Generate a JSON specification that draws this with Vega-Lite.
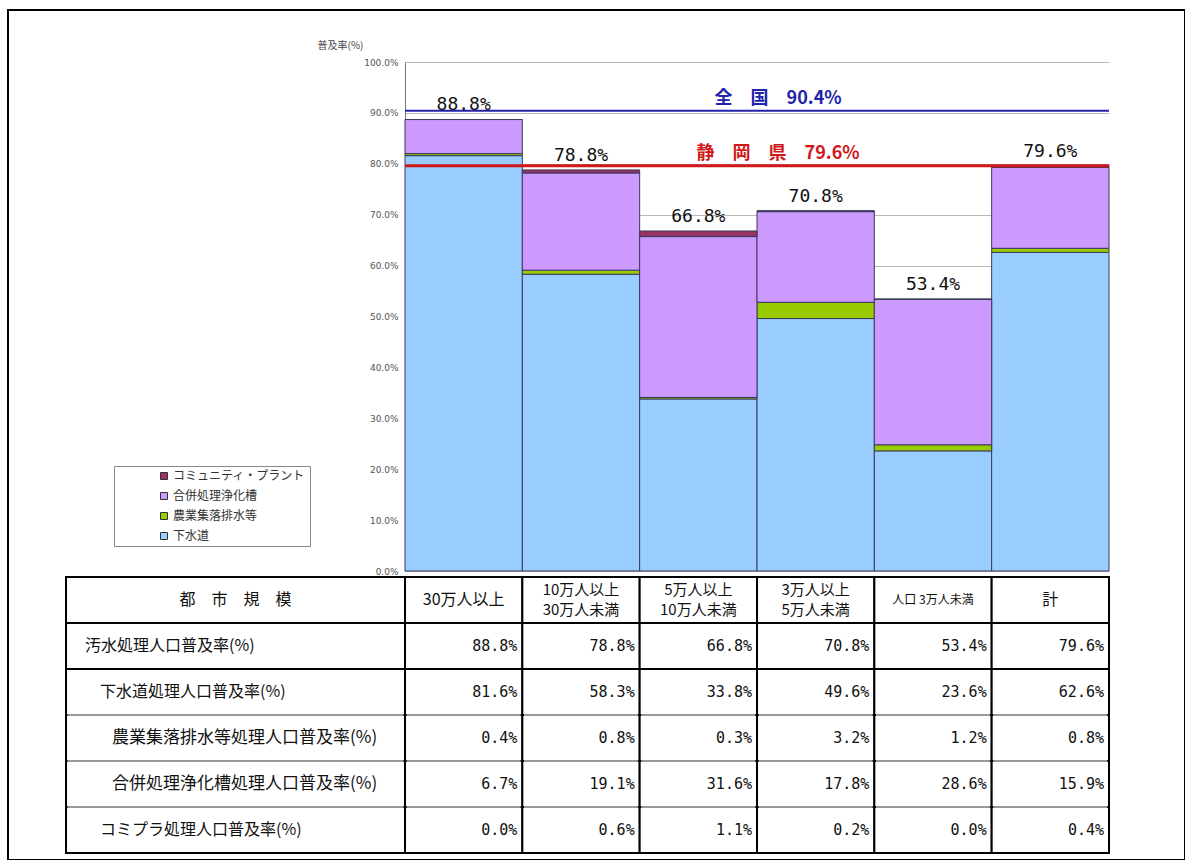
{
  "$schema": "https://vega.github.io/schema/vega-lite/v6.json",
  "width": 1177,
  "height": 850,
  "autosize": "none",
  "padding": {"left": 8, "top": 10, "right": 0, "bottom": 0},
  "background": "white",
  "config": {
    "view": {"stroke": "#000", "strokeWidth": 2},
    "font": "Noto Sans CJK JP"
  },
  "datasets": {
    "table": [
      {"row": "汚水処理人口普及率(%)", "size": "30万人以上", "value": 0.888},
      {"row": "汚水処理人口普及率(%)", "size": "10万人以上\n30万人未満", "value": 0.788},
      {"row": "汚水処理人口普及率(%)", "size": "5万人以上\n10万人未満", "value": 0.668},
      {"row": "汚水処理人口普及率(%)", "size": "3万人以上\n5万人未満", "value": 0.708},
      {"row": "汚水処理人口普及率(%)", "size": "人口 3万人未満", "value": 0.534},
      {"row": "汚水処理人口普及率(%)", "size": "計", "value": 0.796},
      {"row": "下水道処理人口普及率(%)", "size": "30万人以上", "value": 0.816},
      {"row": "下水道処理人口普及率(%)", "size": "10万人以上\n30万人未満", "value": 0.583},
      {"row": "下水道処理人口普及率(%)", "size": "5万人以上\n10万人未満", "value": 0.338},
      {"row": "下水道処理人口普及率(%)", "size": "3万人以上\n5万人未満", "value": 0.496},
      {"row": "下水道処理人口普及率(%)", "size": "人口 3万人未満", "value": 0.236},
      {"row": "下水道処理人口普及率(%)", "size": "計", "value": 0.626},
      {"row": "農業集落排水等処理人口普及率(%)", "size": "30万人以上", "value": 0.004},
      {"row": "農業集落排水等処理人口普及率(%)", "size": "10万人以上\n30万人未満", "value": 0.008},
      {"row": "農業集落排水等処理人口普及率(%)", "size": "5万人以上\n10万人未満", "value": 0.003},
      {"row": "農業集落排水等処理人口普及率(%)", "size": "3万人以上\n5万人未満", "value": 0.032},
      {"row": "農業集落排水等処理人口普及率(%)", "size": "人口 3万人未満", "value": 0.012},
      {"row": "農業集落排水等処理人口普及率(%)", "size": "計", "value": 0.008},
      {"row": "合併処理浄化槽処理人口普及率(%)", "size": "30万人以上", "value": 0.067},
      {"row": "合併処理浄化槽処理人口普及率(%)", "size": "10万人以上\n30万人未満", "value": 0.191},
      {"row": "合併処理浄化槽処理人口普及率(%)", "size": "5万人以上\n10万人未満", "value": 0.316},
      {"row": "合併処理浄化槽処理人口普及率(%)", "size": "3万人以上\n5万人未満", "value": 0.178},
      {"row": "合併処理浄化槽処理人口普及率(%)", "size": "人口 3万人未満", "value": 0.286},
      {"row": "合併処理浄化槽処理人口普及率(%)", "size": "計", "value": 0.159},
      {"row": "コミプラ処理人口普及率(%)", "size": "30万人以上", "value": 0.0},
      {"row": "コミプラ処理人口普及率(%)", "size": "10万人以上\n30万人未満", "value": 0.006},
      {"row": "コミプラ処理人口普及率(%)", "size": "5万人以上\n10万人未満", "value": 0.011},
      {"row": "コミプラ処理人口普及率(%)", "size": "3万人以上\n5万人未満", "value": 0.002},
      {"row": "コミプラ処理人口普及率(%)", "size": "人口 3万人未満", "value": 0.0},
      {"row": "コミプラ処理人口普及率(%)", "size": "計", "value": 0.004}
    ],
    "series": [
      {"row": "下水道処理人口普及率(%)", "type": "下水道", "k": 1},
      {"row": "農業集落排水等処理人口普及率(%)", "type": "農業集落排水等", "k": 2},
      {"row": "合併処理浄化槽処理人口普及率(%)", "type": "合併処理浄化槽", "k": 3},
      {"row": "コミプラ処理人口普及率(%)", "type": "コミュニティ・プラント", "k": 4}
    ],
    "header": [
      {"size": "30万人以上"},
      {"size": "10万人以上\n30万人未満"},
      {"size": "5万人以上\n10万人未満"},
      {"size": "3万人以上\n5万人未満"},
      {"size": "人口 3万人未満"},
      {"size": "計"}
    ],
    "rowlabels": [
      {"row": "都　市　規　模"},
      {"row": "汚水処理人口普及率(%)"},
      {"row": "下水道処理人口普及率(%)"},
      {"row": "農業集落排水等処理人口普及率(%)"},
      {"row": "合併処理浄化槽処理人口普及率(%)"},
      {"row": "コミプラ処理人口普及率(%)"}
    ],
    "refs": [
      {"name": "全国", "value": 0.904, "label": "全　国　90.4%"},
      {"name": "静岡県", "value": 0.796, "label": "静　岡　県　79.6%"}
    ]
  },
  "resolve": {"scale": {"x": "independent", "y": "independent"}},
  "layer": [
    {
      "data": {"name": "table"},
      "transform": [
        {"lookup": "row", "from": {"data": {"name": "series"}, "key": "row", "fields": ["type", "k"]}},
        {"filter": "datum.type != null"}
      ],
      "mark": {"type": "bar", "stroke": "#3a3a5a", "strokeWidth": 1},
      "encoding": {
        "x": {"field": "size", "type": "nominal", "axis": null,
          "scale": {"type": "band", "domain": ["30万人以上", "10万人以上\n30万人未満", "5万人以上\n10万人未満", "3万人以上\n5万人未満", "人口 3万人未満", "計"], "range": [397, 1101], "paddingInner": 0, "paddingOuter": 0}},
        "y": {"field": "value", "type": "quantitative", "stack": "zero",
          "scale": {"domain": [0, 1], "range": [561, 52], "nice": false, "zero": false},
          "axis": {"format": ".1%", "values": [0, 0.1, 0.2, 0.3, 0.4, 0.5, 0.6, 0.7, 0.8, 0.9, 1], "offset": -397,
            "grid": true, "gridColor": "#b8b8b8", "gridWidth": 1, "domain": true, "domainColor": "#777", "ticks": false,
            "labelPadding": 7, "labelFontSize": 9, "labelFont": "DejaVu Sans", "labelColor": "#555",
            "title": "普及率(%)", "titleAngle": 0, "titleX": -65, "titleY": 35, "titleAlign": "center", "titleBaseline": "middle",
            "titleFontSize": 10, "titleFontWeight": "normal", "titleFont": "Noto Sans CJK JP", "titleColor": "#444"}},
        "color": {"field": "type", "type": "nominal",
          "scale": {"domain": ["コミュニティ・プラント", "合併処理浄化槽", "農業集落排水等", "下水道"], "range": ["#993366", "#CC99FF", "#99CC00", "#99CCFF"]},
          "legend": {"orient": "none", "legendX": 106, "legendY": 456, "title": null, "strokeColor": "#888", "fillColor": "#fff",
            "padding": 4, "symbolOffset": 40, "symbolType": "square", "symbolSize": 49, "symbolStrokeColor": "#333", "symbolStrokeWidth": 1,
            "labelFontSize": 12, "labelFont": "Noto Sans CJK JP", "labelColor": "#333", "rowPadding": 8, "labelOffset": 3}},
        "order": {"field": "k", "type": "quantitative"}
      }
    },
    {
      "data": {"name": "table"},
      "transform": [{"filter": "datum.row === '汚水処理人口普及率(%)'"}],
      "mark": {"type": "text", "baseline": "bottom", "dy": -5, "font": "DejaVu Sans Mono", "fontSize": 18, "color": "#111"},
      "encoding": {
        "x": {"field": "size", "type": "nominal", "axis": null,
          "scale": {"type": "band", "domain": ["30万人以上", "10万人以上\n30万人未満", "5万人以上\n10万人未満", "3万人以上\n5万人未満", "人口 3万人未満", "計"], "range": [397, 1101], "paddingInner": 0, "paddingOuter": 0}},
        "y": {"field": "value", "type": "quantitative", "axis": null, "scale": {"domain": [0, 1], "range": [561, 52], "nice": false, "zero": false}},
        "text": {"field": "value", "type": "quantitative", "format": ".1%"}
      }
    },
    {
      "data": {"name": "refs"},
      "mark": {"type": "rule"},
      "encoding": {
        "x": {"datum": 0, "type": "quantitative", "axis": null, "scale": {"domain": [0, 6], "range": [397, 1101], "nice": false, "zero": false}},
        "x2": {"datum": 6},
        "y": {"field": "value", "type": "quantitative", "axis": null, "scale": {"domain": [0, 1], "range": [561, 52], "nice": false, "zero": false}},
        "color": {"condition": {"test": "datum.name === '全国'", "value": "#2222aa"}, "value": "#d01818"},
        "strokeWidth": {"condition": {"test": "datum.name === '全国'", "value": 2}, "value": 3}
      }
    },
    {
      "data": {"name": "refs"},
      "mark": {"type": "text", "baseline": "bottom", "dy": -3, "fontSize": 18, "fontWeight": "bold", "font": "Noto Sans CJK JP"},
      "encoding": {
        "x": {"datum": 3.18, "type": "quantitative", "axis": null, "scale": {"domain": [0, 6], "range": [397, 1101], "nice": false, "zero": false}},
        "y": {"field": "value", "type": "quantitative", "axis": null, "scale": {"domain": [0, 1], "range": [561, 52], "nice": false, "zero": false}},
        "text": {"field": "label"},
        "color": {"condition": {"test": "datum.name === '全国'", "value": "#2222aa"}, "value": "#d01818"}
      }
    },
    {
      "data": {"name": "table"},
      "mark": {"type": "rect", "fill": "#fff", "stroke": "#000", "strokeWidth": 2},
      "encoding": {
        "x": {"field": "size", "type": "nominal", "axis": null,
          "scale": {"type": "band", "domain": ["30万人以上", "10万人以上\n30万人未満", "5万人以上\n10万人未満", "3万人以上\n5万人未満", "人口 3万人未満", "計"], "range": [397, 1101], "paddingInner": 0, "paddingOuter": 0}},
        "y": {"field": "row", "type": "nominal", "axis": null,
          "scale": {"type": "band", "domain": ["都　市　規　模", "汚水処理人口普及率(%)", "下水道処理人口普及率(%)", "農業集落排水等処理人口普及率(%)", "合併処理浄化槽処理人口普及率(%)", "コミプラ処理人口普及率(%)"], "range": [567, 843], "paddingInner": 0, "paddingOuter": 0}}
      }
    },
    {
      "data": {"name": "header"},
      "mark": {"type": "rect", "fill": "#fff", "stroke": "#000", "strokeWidth": 2},
      "encoding": {
        "x": {"field": "size", "type": "nominal", "axis": null,
          "scale": {"type": "band", "domain": ["30万人以上", "10万人以上\n30万人未満", "5万人以上\n10万人未満", "3万人以上\n5万人未満", "人口 3万人未満", "計"], "range": [397, 1101], "paddingInner": 0, "paddingOuter": 0}},
        "y": {"datum": "都　市　規　模", "type": "nominal", "axis": null,
          "scale": {"type": "band", "domain": ["都　市　規　模", "汚水処理人口普及率(%)", "下水道処理人口普及率(%)", "農業集落排水等処理人口普及率(%)", "合併処理浄化槽処理人口普及率(%)", "コミプラ処理人口普及率(%)"], "range": [567, 843], "paddingInner": 0, "paddingOuter": 0}}
      }
    },
    {
      "data": {"name": "rowlabels"},
      "mark": {"type": "rect", "fill": "#fff", "stroke": "#000", "strokeWidth": 2},
      "encoding": {
        "x": {"datum": "L", "type": "nominal", "axis": null, "scale": {"type": "band", "domain": ["L"], "range": [58, 397], "paddingInner": 0, "paddingOuter": 0}},
        "y": {"field": "row", "type": "nominal", "axis": null,
          "scale": {"type": "band", "domain": ["都　市　規　模", "汚水処理人口普及率(%)", "下水道処理人口普及率(%)", "農業集落排水等処理人口普及率(%)", "合併処理浄化槽処理人口普及率(%)", "コミプラ処理人口普及率(%)"], "range": [567, 843], "paddingInner": 0, "paddingOuter": 0}}
      }
    },
    {
      "data": {"name": "table"},
      "transform": [{"filter": "indexof(['農業集落排水等処理人口普及率(%)', '合併処理浄化槽処理人口普及率(%)', 'コミプラ処理人口普及率(%)'], datum.row) >= 0"}],
      "mark": {"type": "tick", "orient": "horizontal", "size": 114, "thickness": 2, "color": "#999", "opacity": 1},
      "encoding": {
        "x": {"field": "size", "type": "nominal", "axis": null,
          "scale": {"type": "band", "domain": ["30万人以上", "10万人以上\n30万人未満", "5万人以上\n10万人未満", "3万人以上\n5万人未満", "人口 3万人未満", "計"], "range": [397, 1101], "paddingInner": 0, "paddingOuter": 0}},
        "y": {"field": "row", "type": "nominal", "axis": null, "bandPosition": 0,
          "scale": {"type": "band", "domain": ["都　市　規　模", "汚水処理人口普及率(%)", "下水道処理人口普及率(%)", "農業集落排水等処理人口普及率(%)", "合併処理浄化槽処理人口普及率(%)", "コミプラ処理人口普及率(%)"], "range": [567, 843], "paddingInner": 0, "paddingOuter": 0}}
      }
    },
    {
      "data": {"name": "rowlabels"},
      "transform": [{"filter": "indexof(['農業集落排水等処理人口普及率(%)', '合併処理浄化槽処理人口普及率(%)', 'コミプラ処理人口普及率(%)'], datum.row) >= 0"}],
      "mark": {"type": "tick", "orient": "horizontal", "size": 336, "thickness": 2, "color": "#999", "opacity": 1},
      "encoding": {
        "x": {"datum": "L", "type": "nominal", "axis": null, "scale": {"type": "band", "domain": ["L"], "range": [58, 397], "paddingInner": 0, "paddingOuter": 0}},
        "y": {"field": "row", "type": "nominal", "axis": null, "bandPosition": 0,
          "scale": {"type": "band", "domain": ["都　市　規　模", "汚水処理人口普及率(%)", "下水道処理人口普及率(%)", "農業集落排水等処理人口普及率(%)", "合併処理浄化槽処理人口普及率(%)", "コミプラ処理人口普及率(%)"], "range": [567, 843], "paddingInner": 0, "paddingOuter": 0}}
      }
    },
    {
      "data": {"name": "table"},
      "mark": {"type": "text", "align": "right", "baseline": "middle", "dx": -5, "font": "DejaVu Sans Mono", "fontSize": 15, "color": "#111"},
      "encoding": {
        "x": {"field": "size", "type": "nominal", "axis": null, "bandPosition": 1,
          "scale": {"type": "band", "domain": ["30万人以上", "10万人以上\n30万人未満", "5万人以上\n10万人未満", "3万人以上\n5万人未満", "人口 3万人未満", "計"], "range": [397, 1101], "paddingInner": 0, "paddingOuter": 0}},
        "y": {"field": "row", "type": "nominal", "axis": null,
          "scale": {"type": "band", "domain": ["都　市　規　模", "汚水処理人口普及率(%)", "下水道処理人口普及率(%)", "農業集落排水等処理人口普及率(%)", "合併処理浄化槽処理人口普及率(%)", "コミプラ処理人口普及率(%)"], "range": [567, 843], "paddingInner": 0, "paddingOuter": 0}},
        "text": {"field": "value", "type": "quantitative", "format": ".1%"}
      }
    },
    {
      "data": {"name": "header"},
      "transform": [{"filter": "indexof(datum.size, '\\n') < 0"}],
      "mark": {"type": "text", "align": "center", "baseline": "middle", "font": "Noto Sans CJK JP", "color": "#111"},
      "encoding": {
        "x": {"field": "size", "type": "nominal", "axis": null,
          "scale": {"type": "band", "domain": ["30万人以上", "10万人以上\n30万人未満", "5万人以上\n10万人未満", "3万人以上\n5万人未満", "人口 3万人未満", "計"], "range": [397, 1101], "paddingInner": 0, "paddingOuter": 0}},
        "y": {"datum": "都　市　規　模", "type": "nominal", "axis": null,
          "scale": {"type": "band", "domain": ["都　市　規　模", "汚水処理人口普及率(%)", "下水道処理人口普及率(%)", "農業集落排水等処理人口普及率(%)", "合併処理浄化槽処理人口普及率(%)", "コミプラ処理人口普及率(%)"], "range": [567, 843], "paddingInner": 0, "paddingOuter": 0}},
        "text": {"field": "size"},
        "size": {"condition": {"test": "datum.size === '人口 3万人未満'", "value": 12}, "value": 16}
      }
    },
    {
      "data": {"name": "header"},
      "transform": [{"filter": "indexof(datum.size, '\\n') >= 0"}],
      "mark": {"type": "text", "align": "center", "baseline": "middle", "lineBreak": "\n", "lineHeight": 20, "dy": -10, "font": "Noto Sans CJK JP", "fontSize": 15, "color": "#111"},
      "encoding": {
        "x": {"field": "size", "type": "nominal", "axis": null,
          "scale": {"type": "band", "domain": ["30万人以上", "10万人以上\n30万人未満", "5万人以上\n10万人未満", "3万人以上\n5万人未満", "人口 3万人未満", "計"], "range": [397, 1101], "paddingInner": 0, "paddingOuter": 0}},
        "y": {"datum": "都　市　規　模", "type": "nominal", "axis": null,
          "scale": {"type": "band", "domain": ["都　市　規　模", "汚水処理人口普及率(%)", "下水道処理人口普及率(%)", "農業集落排水等処理人口普及率(%)", "合併処理浄化槽処理人口普及率(%)", "コミプラ処理人口普及率(%)"], "range": [567, 843], "paddingInner": 0, "paddingOuter": 0}},
        "text": {"field": "size"}
      }
    },
    {
      "data": {"name": "rowlabels"},
      "transform": [{"filter": "datum.row === '汚水処理人口普及率(%)'"}],
      "mark": {"type": "text", "align": "left", "baseline": "middle", "dx": 19, "font": "Noto Sans CJK JP", "fontSize": 16, "color": "#111"},
      "encoding": {
        "x": {"datum": "L", "type": "nominal", "axis": null, "bandPosition": 0, "scale": {"type": "band", "domain": ["L"], "range": [58, 397], "paddingInner": 0, "paddingOuter": 0}},
        "y": {"field": "row", "type": "nominal", "axis": null,
          "scale": {"type": "band", "domain": ["都　市　規　模", "汚水処理人口普及率(%)", "下水道処理人口普及率(%)", "農業集落排水等処理人口普及率(%)", "合併処理浄化槽処理人口普及率(%)", "コミプラ処理人口普及率(%)"], "range": [567, 843], "paddingInner": 0, "paddingOuter": 0}},
        "text": {"field": "row"}
      }
    },
    {
      "data": {"name": "rowlabels"},
      "transform": [{"filter": "datum.row === '下水道処理人口普及率(%)' || datum.row === 'コミプラ処理人口普及率(%)'"}],
      "mark": {"type": "text", "align": "left", "baseline": "middle", "dx": 34, "font": "Noto Sans CJK JP", "fontSize": 16, "color": "#111"},
      "encoding": {
        "x": {"datum": "L", "type": "nominal", "axis": null, "bandPosition": 0, "scale": {"type": "band", "domain": ["L"], "range": [58, 397], "paddingInner": 0, "paddingOuter": 0}},
        "y": {"field": "row", "type": "nominal", "axis": null,
          "scale": {"type": "band", "domain": ["都　市　規　模", "汚水処理人口普及率(%)", "下水道処理人口普及率(%)", "農業集落排水等処理人口普及率(%)", "合併処理浄化槽処理人口普及率(%)", "コミプラ処理人口普及率(%)"], "range": [567, 843], "paddingInner": 0, "paddingOuter": 0}},
        "text": {"field": "row"}
      }
    },
    {
      "data": {"name": "rowlabels"},
      "transform": [{"filter": "datum.row === '農業集落排水等処理人口普及率(%)' || datum.row === '合併処理浄化槽処理人口普及率(%)'"}],
      "mark": {"type": "text", "align": "left", "baseline": "middle", "dx": 46, "font": "Noto Sans CJK JP", "fontSize": 17, "color": "#111"},
      "encoding": {
        "x": {"datum": "L", "type": "nominal", "axis": null, "bandPosition": 0, "scale": {"type": "band", "domain": ["L"], "range": [58, 397], "paddingInner": 0, "paddingOuter": 0}},
        "y": {"field": "row", "type": "nominal", "axis": null,
          "scale": {"type": "band", "domain": ["都　市　規　模", "汚水処理人口普及率(%)", "下水道処理人口普及率(%)", "農業集落排水等処理人口普及率(%)", "合併処理浄化槽処理人口普及率(%)", "コミプラ処理人口普及率(%)"], "range": [567, 843], "paddingInner": 0, "paddingOuter": 0}},
        "text": {"field": "row"}
      }
    },
    {
      "data": {"name": "rowlabels"},
      "transform": [{"filter": "datum.row === '都　市　規　模'"}],
      "mark": {"type": "text", "align": "center", "baseline": "middle", "font": "Noto Sans CJK JP", "fontSize": 16, "color": "#111"},
      "encoding": {
        "x": {"datum": "L", "type": "nominal", "axis": null, "scale": {"type": "band", "domain": ["L"], "range": [58, 397], "paddingInner": 0, "paddingOuter": 0}},
        "y": {"field": "row", "type": "nominal", "axis": null,
          "scale": {"type": "band", "domain": ["都　市　規　模", "汚水処理人口普及率(%)", "下水道処理人口普及率(%)", "農業集落排水等処理人口普及率(%)", "合併処理浄化槽処理人口普及率(%)", "コミプラ処理人口普及率(%)"], "range": [567, 843], "paddingInner": 0, "paddingOuter": 0}},
        "text": {"field": "row"}
      }
    }
  ]
}
